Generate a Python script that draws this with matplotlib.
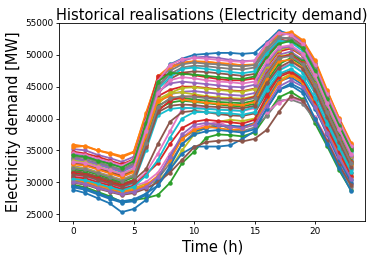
import matplotlib
matplotlib.use("Agg")
import matplotlib.pyplot as plt

hours = list(range(24))

u01 = [34500, 34200, 33500, 33000, 32500, 33500, 39500, 45500, 48500, 49400, 50000, 50150, 50300, 50300, 50150, 50300, 51950, 53800, 53200, 51800, 48500, 44000, 39800, 35500]
u02 = [35900, 35600, 35000, 34600, 34100, 34800, 40500, 46600, 48200, 48800, 49000, 48900, 48700, 48500, 48400, 48500, 51500, 53400, 53300, 52200, 49000, 44300, 40100, 36200]
l01 = [28800, 28300, 27500, 26700, 25300, 25800, 27200, 29500, 32000, 34500, 35600, 35600, 35600, 35800, 36800, 38000, 41500, 44500, 45500, 44500, 41500, 37800, 33800, 30300]
m01 = [33000, 32700, 32100, 31500, 30900, 31800, 37500, 43500, 44500, 45000, 45000, 44800, 44600, 44400, 44300, 44700, 48000, 50500, 51000, 49800, 46500, 42000, 38000, 34000]
u03 = [35200, 35000, 34300, 33800, 33200, 34000, 40000, 46000, 47800, 49000, 49600, 49700, 49500, 49200, 49000, 49100, 51800, 53000, 53400, 52000, 48700, 43800, 39600, 35800]
l02 = [29600, 29200, 28500, 27800, 26900, 27200, 27500, 28000, 29900, 33000, 34800, 37000, 37500, 37400, 37200, 37800, 40500, 43300, 44200, 43000, 39300, 35700, 31900, 28700]
t01 = [31500, 31200, 30600, 30000, 29400, 29800, 31500, 34500, 38000, 41500, 41800, 41600, 41400, 41300, 41200, 41600, 45000, 47800, 48600, 47300, 44000, 39800, 35900, 32100]
l03 = [30200, 29900, 29300, 28800, 28300, 28600, 29300, 30500, 33000, 36000, 37800, 38500, 39200, 38300, 38000, 38600, 40400, 42800, 43000, 42300, 39800, 36300, 32500, 29300]
l08 = [30600, 30300, 29700, 29200, 28700, 29000, 29800, 30200, 32000, 35000, 37500, 38800, 39500, 39800, 39600, 40000, 43000, 46000, 47000, 45800, 42500, 38400, 34500, 30900]
m09 = [31000, 30800, 30300, 29700, 29100, 29900, 35000, 40500, 41500, 41700, 41600, 41500, 41400, 41300, 41200, 41800, 45000, 47500, 48500, 47200, 44000, 39800, 35900, 32000]
u12 = [33000, 32800, 32200, 31700, 31100, 32000, 37800, 43800, 46200, 47200, 47400, 47300, 47100, 46900, 46700, 47000, 49800, 52000, 52400, 51000, 47600, 43100, 39000, 35000]
u06 = [35500, 35700, 35000, 34500, 33900, 34700, 40800, 46300, 48000, 48600, 48900, 48900, 48700, 48600, 48300, 48400, 50800, 53200, 53600, 52300, 49200, 44500, 40000, 36000]
m05 = [31600, 31400, 30800, 30200, 29600, 30400, 36000, 41500, 42500, 42800, 42600, 42400, 42200, 42000, 41900, 42300, 45800, 48500, 49500, 48300, 45000, 40800, 36800, 32900]
u04 = [34800, 34500, 34000, 33400, 32800, 33600, 39800, 46600, 47000, 47200, 46800, 46500, 46200, 46000, 46000, 46300, 50000, 52300, 52800, 51500, 48000, 43500, 39300, 35400]
m02 = [32500, 32200, 31600, 31000, 30400, 31200, 37000, 42500, 43800, 44200, 44300, 44100, 43900, 43700, 43600, 44000, 47500, 50000, 50500, 49200, 46000, 41600, 37600, 33600]
t03 = [31800, 31500, 30900, 30400, 29800, 30300, 32000, 36000, 39500, 41000, 41200, 41000, 40700, 40500, 40400, 40800, 44000, 46800, 47500, 46300, 43000, 39000, 35200, 31500]
l07 = [31000, 30700, 30100, 29600, 29000, 29400, 30000, 31500, 34500, 37000, 38500, 39000, 39500, 38600, 38800, 39200, 41000, 42500, 43200, 42700, 40200, 36800, 33000, 29800]
u09 = [33800, 33500, 33000, 32400, 31800, 32800, 38800, 44800, 47000, 48000, 48300, 48200, 48000, 47800, 47700, 48000, 50500, 52500, 52700, 51200, 48000, 43400, 39200, 35300]
m11 = [32400, 32100, 31500, 30900, 30300, 31100, 36800, 42300, 44000, 44800, 44900, 44700, 44500, 44300, 44200, 44600, 48200, 50800, 51200, 49900, 46600, 42100, 38100, 34100]
u07 = [33500, 33300, 32800, 32200, 31600, 32500, 38500, 44600, 46500, 47800, 48000, 47800, 47500, 47300, 47100, 47400, 50200, 52200, 52000, 50600, 47300, 42800, 38600, 34700]
l09 = [29200, 28800, 28100, 27400, 26800, 27000, 28000, 30500, 34000, 37000, 38000, 38500, 38800, 38900, 38700, 39300, 42800, 45800, 46500, 45300, 41800, 37500, 33500, 29900]
l05 = [30400, 30100, 29500, 29000, 28500, 28800, 29500, 31000, 33500, 36800, 38200, 38700, 38500, 38200, 38400, 39200, 42500, 45600, 46800, 45600, 42300, 38200, 34300, 30800]
m03 = [32000, 31800, 31200, 30600, 30000, 30800, 36500, 42000, 43000, 43200, 43000, 42800, 42600, 42500, 42400, 42800, 46500, 49300, 50200, 49000, 45600, 41300, 37300, 33300]
t04 = [30800, 30600, 30000, 29500, 28900, 29500, 31200, 33000, 36000, 38500, 39500, 39800, 39600, 39400, 39200, 39800, 43500, 46500, 47300, 46000, 42800, 38600, 34800, 31000]
m08 = [33700, 33400, 32800, 32300, 31700, 32600, 38300, 44200, 45500, 45800, 45600, 45400, 45200, 45000, 44900, 45300, 48500, 51000, 51300, 50000, 46800, 42300, 38200, 34200]
l04 = [29900, 29600, 29000, 28500, 28000, 28300, 29000, 30000, 31500, 33500, 35500, 36300, 36500, 36600, 36400, 36800, 38200, 41000, 43500, 42800, 40000, 36500, 32700, 29500]
u11 = [34600, 34300, 33700, 33200, 32600, 33500, 39600, 45900, 48400, 49300, 49500, 49400, 49200, 49000, 48900, 49100, 51700, 53500, 53100, 51700, 48400, 43900, 39700, 35700]
u05 = [34000, 33800, 33200, 32600, 32000, 33000, 39000, 45000, 47500, 48500, 48800, 48600, 48500, 48300, 48200, 48400, 51000, 52800, 52500, 51000, 47800, 43200, 39000, 35000]
m04 = [33400, 33100, 32500, 31900, 31300, 32000, 37800, 43000, 44000, 44100, 43800, 43500, 43300, 43200, 43100, 43500, 47000, 49800, 50000, 48700, 45400, 41000, 37000, 33100]
t02 = [30500, 30300, 29800, 29200, 28700, 29300, 31000, 33500, 37000, 40000, 41000, 41000, 40900, 40800, 40600, 41000, 44500, 47000, 47800, 46500, 43200, 39200, 35400, 31600]
l10 = [29400, 29000, 28300, 27600, 27000, 27300, 28200, 29500, 32500, 36000, 37500, 38000, 38200, 38000, 37800, 38300, 41500, 44500, 45200, 44000, 40000, 36000, 32200, 28600]
m06 = [32800, 32600, 32000, 31400, 30800, 31600, 37200, 42800, 43500, 43000, 42700, 42500, 42300, 42200, 42100, 42600, 46200, 49000, 49200, 48000, 44800, 40500, 36600, 32700]
u08 = [34200, 34000, 33400, 32900, 32300, 33300, 39300, 45800, 47200, 47000, 46900, 46700, 46500, 46300, 46200, 46600, 49500, 51700, 52200, 51000, 47500, 43000, 38900, 35100]
m12 = [31400, 31200, 30600, 30000, 29500, 30200, 35800, 41200, 42800, 43400, 43500, 43300, 43100, 43000, 42900, 43400, 47000, 49600, 50000, 48700, 45300, 41000, 37000, 33100]
l06 = [30000, 29700, 29100, 28600, 28100, 28500, 29200, 30800, 34000, 37500, 39000, 39300, 39000, 38700, 38500, 39000, 42000, 45000, 46000, 45000, 41800, 37800, 33900, 30500]
m07 = [31200, 31000, 30400, 29800, 29300, 30000, 35500, 41000, 42000, 42200, 42100, 41900, 41800, 41700, 41600, 42000, 45500, 48000, 49000, 47800, 44500, 40200, 36300, 32400]
u10 = [33200, 33000, 32400, 31900, 31300, 32200, 38000, 44000, 46000, 46500, 46300, 46000, 45800, 45700, 45500, 45800, 49000, 51200, 51500, 50200, 46800, 42400, 38300, 34400]
m10 = [32200, 32000, 31400, 30800, 30200, 31000, 36200, 41800, 43200, 43500, 43400, 43200, 43000, 42900, 42800, 43200, 46800, 49500, 49800, 48500, 45300, 41000, 36900, 33000]

days = [u01, u02, l02, m01, u03, u12, t01, l03, l08, m09,
        l01, u06, m05, u04, m02, t03, l07, u09, m11, u07,
        l09, l05, m03, t04, m08, l04, u11, u05, m04, t02,
        l10, m06, u08, m12, l06, m07, u10, m10]

title = "Historical realisations (Electricity demand)"
xlabel = "Time (h)"
ylabel = "Electricity demand [MW]"

fig = plt.figure(figsize=(3.74, 2.61), dpi=100)
ax = fig.add_axes([0.159, 0.153, 0.817, 0.759])
for d in days:
    ax.plot(hours, d, marker="o", markersize=2.2, linewidth=1.3)

ax.set_ylim(23900, 55000)
ax.set_xticks([0, 5, 10, 15, 20])
ax.set_yticks([25000, 30000, 35000, 40000, 45000, 50000, 55000])
ax.tick_params(labelsize=6.4, length=2.5, width=0.6, pad=2)
for s in ax.spines.values():
    s.set_linewidth(0.6)
ax.set_title(title, fontsize=10.5, pad=2)
ax.set_xlabel(xlabel, fontsize=10.5, labelpad=2)
ax.set_ylabel(ylabel, fontsize=10.5, labelpad=3)

fig.savefig("out.png", dpi=100)
